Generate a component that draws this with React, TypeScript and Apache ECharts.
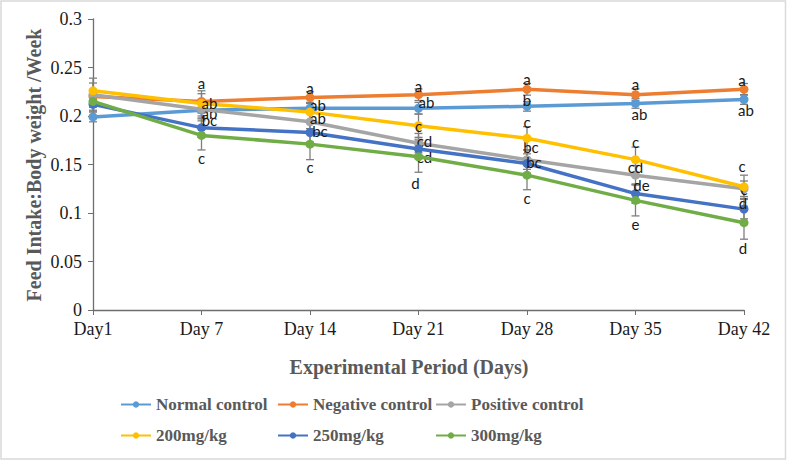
import React, { useEffect, useRef } from "react";
import * as echarts from "echarts";

const categories = ["Day1", "Day 7", "Day 14", "Day 21", "Day 28", "Day 35", "Day 42"];
const seriesNames = ["Normal control", "Negative control", "Positive control", "200mg/kg", "250mg/kg", "300mg/kg"];

const normalControl = [0.199, 0.206, 0.208, 0.208, 0.21, 0.213, 0.217];
const negativeControl = [0.22, 0.215, 0.219, 0.222, 0.2275, 0.222, 0.2275];
const positiveControl = [0.222, 0.207, 0.194, 0.172, 0.155, 0.139, 0.125];
const dose200 = [0.226, 0.213, 0.204, 0.19, 0.177, 0.155, 0.127];
const dose250 = [0.212, 0.188, 0.183, 0.166, 0.151, 0.12, 0.104];
const dose300 = [0.215, 0.18, 0.171, 0.158, 0.139, 0.113, 0.09];

const normalErr = [0.005, 0.006, 0.005, 0.006, 0.005, 0.005, 0.005];
const negativeErr = [0.006, 0.011, 0.006, 0.006, 0.006, 0.006, 0.006];
const positiveErr = [0.017, 0.01, 0.01, 0.01, 0.01, 0.01, 0.008];
const err200 = [0.008, 0.01, 0.01, 0.012, 0.012, 0.013, 0.012];
const err250 = [0.006, 0.01, 0.01, 0.01, 0.01, 0.01, 0.01];
const err300 = [0.006, 0.015, 0.016, 0.016, 0.015, 0.016, 0.017];

const normalLetters = ["", "ab", "ab", "ab", "b", "ab", "ab"];
const negativeLetters = ["", "a", "a", "a", "a", "a", "a"];
const positiveLetters = ["", "", "", "cd", "bc", "cd", "c"];
const letters200 = ["", "ab", "ab", "c", "c", "c", "c"];
const letters250 = ["", "bc", "bc", "cd", "bc", "de", "d"];
const letters300 = ["", "c", "c", "d", "c", "e", "d"];

// layout: label offsets (px) relative to each marker centre
const normalOff = [null, [8, 3], [8, -3], [8, -6], [0, -6], [4, 11], [2, 10]];
const negativeOff = [null, [0, -18], [0, -10], [0, -9], [0, -10], [0, -11], [-2, -9]];
const positiveOff = [null, null, null, [6, -2], [4, -13], [0, -8], [0, 0]];
const off200 = [null, [8, 0], [8, 6], [0, 0], [0, -16], [0, -18], [-2, -21]];
const off250 = [null, [8, -8], [10, -1], [6, 8], [7, -2], [6, -9], [-1, -6]];
const off300 = [null, [0, 23], [0, 23], [-3, 26], [0, 23], [0, 24], [-1, 25]];

const colors = ["#5B9BD5", "#ED7D31", "#A5A5A5", "#FFC000", "#4472C4", "#70AD47"];
const legendPos = [
  [120, 396],
  [277, 396],
  [435, 396],
  [120, 427],
  [277, 427],
  [435, 427],
];

const SERIF = "'Liberation Serif', 'Times New Roman', serif";

export default function App() {
  const ref = useRef<HTMLDivElement>(null);
  useEffect(() => {
    if (!ref.current) return;
    const chart = echarts.init(ref.current, null, { renderer: "svg" });
    const values = [normalControl, negativeControl, positiveControl, dose200, dose250, dose300];
    const errs = [normalErr, negativeErr, positiveErr, err200, err250, err300];
    const letters = [normalLetters, negativeLetters, positiveLetters, letters200, letters250, letters300];
    const offs = [normalOff, negativeOff, positiveOff, off200, off250, off300];

    const errorSeries = values.map((vals, si) => ({
      type: "custom",
      name: seriesNames[si] + " error",
      z: 1,
      silent: true,
      renderItem: (params: any, api: any) => {
        const x = api.value(0);
        const v = api.value(1);
        const e = api.value(2);
        const top = api.coord([x, v + e]);
        const bot = api.coord([x, v - e]);
        const cap = 4;
        const style = { stroke: "#7F7F7F", lineWidth: 1.3, fill: "none" };
        return {
          type: "group",
          children: [
            { type: "line", shape: { x1: top[0], y1: top[1], x2: bot[0], y2: bot[1] }, style },
            { type: "line", shape: { x1: top[0] - cap, y1: top[1], x2: top[0] + cap, y2: top[1] }, style },
            { type: "line", shape: { x1: bot[0] - cap, y1: bot[1], x2: bot[0] + cap, y2: bot[1] }, style },
          ],
        };
      },
      data: vals.map((v, i) => [i, v, errs[si][i]]),
    }));

    const lineSeries = values.map((vals, si) => ({
      type: "line",
      name: seriesNames[si],
      z: 3 + si,
      color: colors[si],
      symbol: "circle",
      symbolSize: 9,
      lineStyle: { width: 3.5, color: colors[si] },
      itemStyle: { color: colors[si] },
      data: vals.map((v, i) => {
        const t = letters[si][i];
        const o = offs[si][i];
        if (!t || !o) return { value: v };
        return {
          value: v,
          label: {
            show: true,
            position: "inside",
            offset: o,
            formatter: () => t,
            color: "#1a1a1a",
            textBorderWidth: 0,
            fontFamily: "Lato, 'Noto Sans', sans-serif",
            fontSize: 15,
          },
        };
      }),
    }));

    const legends = seriesNames.map((n, i) => ({
      data: [n],
      left: legendPos[i][0],
      top: legendPos[i][1],
      padding: 0,
      itemWidth: 30,
      itemHeight: 8,
      selectedMode: false,
      textStyle: { fontFamily: SERIF, fontWeight: "bold", fontSize: 17, color: "#595959" },
    }));

    chart.setOption({
      animation: false,
      backgroundColor: "#ffffff",
      grid: { left: 93, right: 44, top: 19, bottom: 151, containLabel: false },
      legend: legends,
      xAxis: {
        type: "category",
        data: categories,
        boundaryGap: false,
        axisLine: { lineStyle: { color: "#6E6E6E", width: 1.3 } },
        axisTick: { show: true, length: 5, lineStyle: { color: "#6E6E6E" } },
        axisLabel: { fontFamily: SERIF, fontSize: 18, color: "#1a1a1a", margin: 10 },
        splitLine: { show: false },
      },
      yAxis: {
        type: "value",
        min: 0,
        max: 0.3,
        interval: 0.05,
        axisLine: { show: true, lineStyle: { color: "#6E6E6E", width: 1.3 } },
        axisTick: { show: true, length: 5, lineStyle: { color: "#6E6E6E" } },
        axisLabel: { fontFamily: SERIF, fontSize: 18, color: "#1a1a1a", margin: 11 },
        splitLine: { show: false },
      },
      graphic: [
        {
          type: "rect",
          shape: { x: 1, y: 1, width: 784.5, height: 458 },
          style: { fill: "none", stroke: "#D9D9D9", lineWidth: 1.5 },
          silent: true,
        },
        {
          type: "text",
          x: 34,
          y: 165,
          rotation: Math.PI / 2,
          style: {
            text: "Feed Intake:Body weight /Week",
            fontFamily: SERIF,
            fontWeight: "bold",
            fontSize: 20,
            fill: "#595959",
            align: "center",
            verticalAlign: "middle",
          },
        },
        {
          type: "text",
          x: 409,
          y: 367,
          style: {
            text: "Experimental Period (Days)",
            fontFamily: SERIF,
            fontWeight: "bold",
            fontSize: 20,
            fill: "#595959",
            align: "center",
            verticalAlign: "middle",
          },
        },
      ],
      series: [...errorSeries, ...lineSeries],
    });
    return () => chart.dispose();
  }, []);
  return (
    <div
      ref={ref}
      style={{ position: "fixed", left: 0, top: 0, width: 788, height: 461, background: "#fff" }}
    />
  );
}
